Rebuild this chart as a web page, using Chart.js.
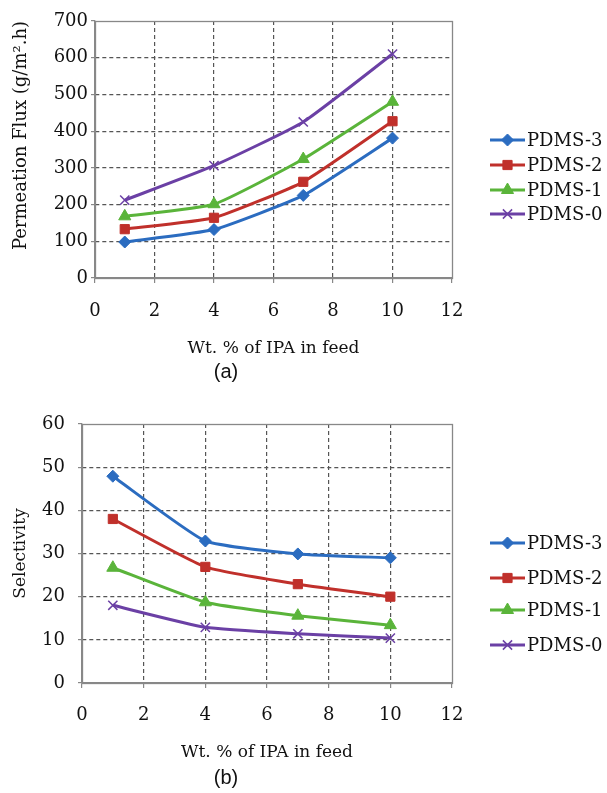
<!DOCTYPE html>
<html>
<head>
<meta charset="utf-8">
<script src="https://cdn.jsdelivr.net/npm/chart.js@4.4.1/dist/chart.umd.min.js"></script>
<style>
html, body { margin: 0; padding: 0; background: #fff; }
#wrapA { position: absolute; left: 0; top: 0; width: 607px; height: 392px; }
#wrapB { position: absolute; left: 0; top: 398px; width: 607px; height: 395px; }
</style>
</head>
<body>
<div id="wrapA"><canvas id="fluxChart"></canvas></div>
<div id="wrapB"><canvas id="selChart"></canvas></div>
<script>
// feed concentration (wt.% IPA)
const feedIPA = [1, 4, 7, 10];
const seriesNames = ['PDMS-3', 'PDMS-2', 'PDMS-1', 'PDMS-0'];

// (a) permeation flux, g/m2.h
const fluxPDMS3 = [98, 132, 225, 381];
const fluxPDMS2 = [133, 164, 262, 427];
const fluxPDMS1 = [168, 201, 324, 480];
const fluxPDMS0 = [212, 306, 425, 610];

// (b) selectivity
const selPDMS3 = [47.9, 32.9, 29.9, 29.0];
const selPDMS2 = [38.0, 26.9, 22.9, 20.0];
const selPDMS1 = [26.7, 18.7, 15.6, 13.4];
const selPDMS0 = [18.0, 12.9, 11.4, 10.4];

const xTicks = [0, 2, 4, 6, 8, 10, 12];
const fluxTicks = [0, 100, 200, 300, 400, 500, 600, 700];
const selTicks = [0, 10, 20, 30, 40, 50, 60];

const colors = ['#2b6cc0', '#c0302b', '#5ab43a', '#6b40a5'];
const markers = ['rectRot', 'rect', 'triangle', 'crossRot'];
const markerSize = [6, 6.5, 7, 6.5];

const serif = '"DejaVu Serif", "Liberation Serif", serif';

function makeSets(values) {
  return values.map((vals, i) => ({
    label: seriesNames[i],
    data: vals.map((v, j) => ({ x: feedIPA[j], y: v })),
    borderColor: colors[i],
    backgroundColor: colors[i],
    borderWidth: 3,
    tension: 0.15,
    pointStyle: markers[i],
    pointRadius: markerSize[i],
    pointBorderWidth: i == 3 ? 1.5 : 1,
    pointBorderColor: colors[i],
    pointBackgroundColor: colors[i]
  }));
}

// plot frame on the right / top
const frame = {
  id: 'frame',
  afterDraw(chart) {
    const a = chart.chartArea, ctx = chart.ctx;
    ctx.save();
    ctx.strokeStyle = '#888';
    ctx.lineWidth = 1.3;
    ctx.strokeRect(Math.round(a.left) + 0.5, Math.round(a.top) + 0.5, Math.round(a.right - a.left), Math.round(a.bottom - a.top));
    ctx.restore();
  }
};

// legend with line + marker samples
const sideKey = {
  id: 'sideKey',
  afterDraw(chart, args, opts) {
    const ctx = chart.ctx;
    ctx.save();
    chart.data.datasets.forEach((ds, i) => {
      const y = opts.y[i];
      ctx.strokeStyle = ds.borderColor;
      ctx.fillStyle = ds.backgroundColor;
      ctx.lineWidth = 3;
      ctx.beginPath();
      ctx.moveTo(opts.x, y);
      ctx.lineTo(opts.x + 35, y);
      ctx.stroke();
      ctx.lineWidth = ds.pointBorderWidth;
      if (Chart.helpers && Chart.helpers.drawPoint) {
        Chart.helpers.drawPoint(ctx, { pointStyle: ds.pointStyle, radius: ds.pointRadius, rotation: 0, borderWidth: ds.pointBorderWidth }, opts.x + 17.5, y);
      }
      ctx.fillStyle = '#111';
      ctx.font = '18px ' + serif;
      ctx.textAlign = 'left';
      ctx.textBaseline = 'middle';
      ctx.fillText(ds.label, opts.x + 37, y + 1);
    });
    ctx.restore();
  }
};

function gridColor(lo, hi) {
  return c => (c.tick && (c.tick.value === lo || c.tick.value === hi)) ? 'rgba(0,0,0,0)' : '#555';
}

function makeChart(id, sets, yTicks, yTitle, cap, lay) {
  return new Chart(document.getElementById(id), {
    type: 'line',
    data: { datasets: sets },
    plugins: [frame, sideKey],
    options: {
      responsive: true,
      maintainAspectRatio: false,
      animation: false,
      layout: { padding: { left: 0, right: 155, top: lay.top, bottom: 0 } },
      plugins: {
        legend: { display: false },
        tooltip: { enabled: false },
        title: {
          display: true, position: 'bottom', text: cap,
          color: '#111',
          font: { family: '"Liberation Sans", Arial, sans-serif', size: 20, weight: 'normal', lineHeight: 1.2 },
          padding: { top: 0, bottom: lay.capPad }
        },
        sideKey: { x: 490, y: lay.keyY }
      },
      scales: {
        x: {
          type: 'linear', min: 0, max: 12,
          afterBuildTicks: s => { s.ticks = xTicks.map(v => ({ value: v })); },
          afterFit: s => { s.height = lay.xH; },
          ticks: { color: '#111', padding: lay.xPad, font: { family: serif, size: 18 } },
          grid: { color: gridColor(0, 12), tickColor: '#888', tickLength: 5, lineWidth: 1.2 },
          border: { color: '#888', width: 1.3, dash: [4, 3] },
          title: {
            display: true, text: 'Wt. % of IPA in feed', color: '#111',
            font: { family: serif, size: 17 }, padding: { top: 4, bottom: lay.xTitlePad }
          }
        },
        y: {
          min: 0, max: yTicks[yTicks.length - 1],
          afterBuildTicks: s => { s.ticks = yTicks.map(v => ({ value: v })); },
          afterFit: s => { s.width = lay.left; },
          ticks: { color: '#111', padding: lay.yPad, font: { family: serif, size: 18 } },
          grid: { color: gridColor(0, yTicks[yTicks.length - 1]), tickColor: '#888', tickLength: 4, lineWidth: 1.2 },
          border: { color: '#888', width: 1.3, dash: [4, 3] },
          title: {
            display: true, text: yTitle, color: '#111', align: lay.yAlign,
            font: { family: serif, size: lay.yTitleSize }, padding: { top: lay.yTitlePad, bottom: 0 }
          }
        }
      }
    }
  });
}

const fluxChart = makeChart('fluxChart',
  makeSets([fluxPDMS3, fluxPDMS2, fluxPDMS1, fluxPDMS0]),
  fluxTicks, 'Permeation Flux (g/m\u00B2.h)', '(a)',
  { top: 21, left: 95, xH: 82, xPad: 18, yPad: 3, xTitlePad: 1, yTitlePad: 11, yTitleSize: 18, capPad: 8, yAlign: 'end', keyY: [140, 165, 190, 214] });

const selChart = makeChart('selChart',
  makeSets([selPDMS3, selPDMS2, selPDMS1, selPDMS0]),
  selTicks, 'Selectivity', '(b)',
  { top: 26, left: 82, xH: 83, xPad: 17, yPad: 13, xTitlePad: 3, yTitlePad: 10, yTitleSize: 17, capPad: 3, yAlign: 'center', keyY: [145, 180, 212, 247] });
</script>
</body>
</html>
